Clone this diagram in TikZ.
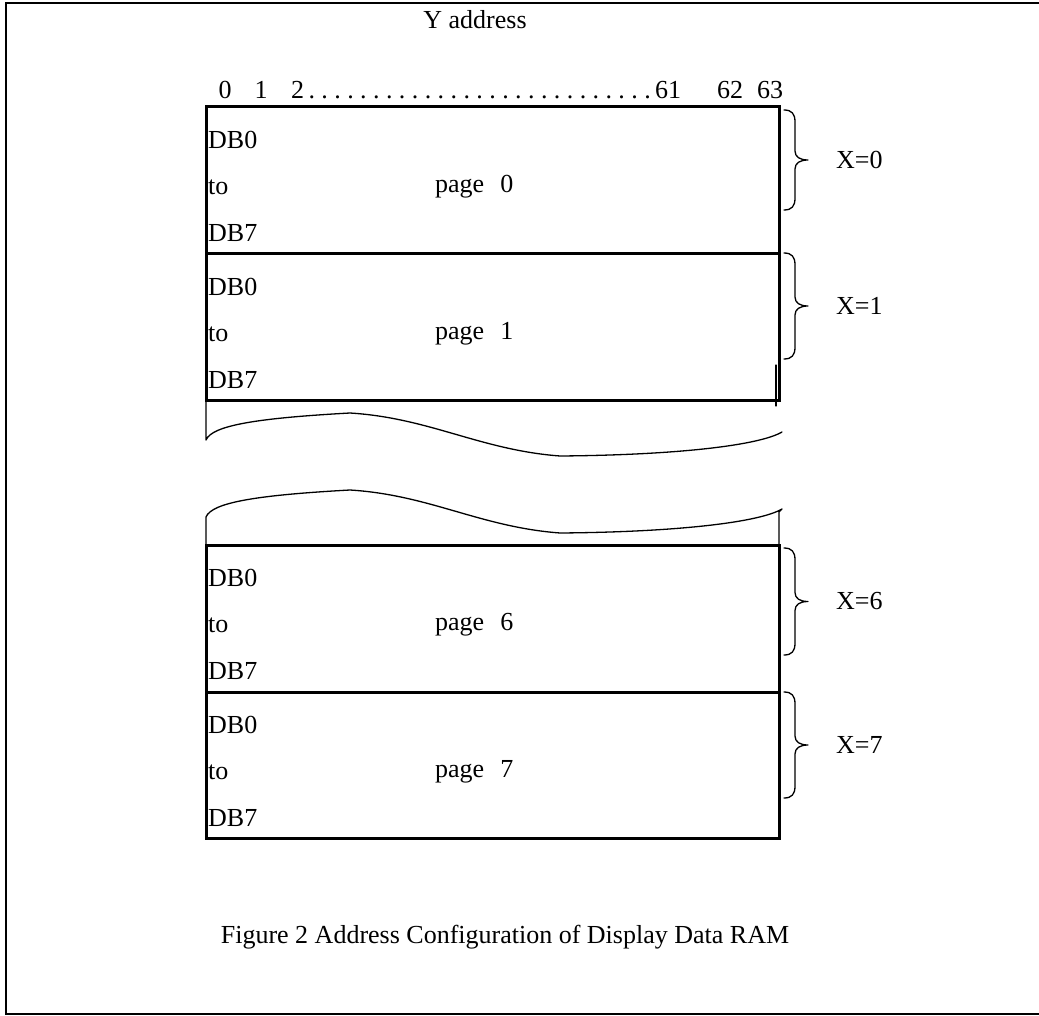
\documentclass[tikz,border=0pt]{standalone}
\usepackage{fontspec}
\setmainfont{Liberation Serif}
\begin{document}
\begin{tikzpicture}[x=1pt,y=-1pt,
  txt/.style={inner sep=0pt, font=\fontsize{26}{30}\selectfont},
  boxline/.style={line width=3pt},
  thin/.style={line width=1.3pt, line cap=round, line join=round},
  frameline/.style={line width=2pt}]
\useasboundingbox (0,0) rectangle (1039,1016);
% outer frame (top, left, bottom)
\draw[frameline] (1039,3) -- (6,3) -- (6,1014) -- (1039,1014);

% header
\node[txt] (yaddr) at (475,20) {Y address};
\node[txt] (n0) at (225,90) {0};
\node[txt] (n1) at (261,90) {1};
\node[txt,anchor=west] (n2) at (291,90)
  {\hbox to 390pt{2\kern1pt\xleaders\hbox to 12.6pt{\hss.\hss}\hfill\kern1pt 61}};
\node[txt] (n62) at (730,90) {62};
\node[txt] (n63) at (770,90) {63};

% boxes
\draw[boxline] (206,107) rectangle (779,254);
\draw[boxline] (206,254) rectangle (779,400);
\draw[boxline] (206,545) rectangle (779,692);
\draw[boxline] (206,692) rectangle (779,838);
\draw[thin] (776,365) -- (776,406);

% box texts
\foreach \t/\p/\nm in {107/0/a,254/1/b,545/6/c,692/7/d}{
  \node[txt,anchor=west] (db0\nm) at (208,\t+33) {DB0};
  \node[txt,anchor=west] (to\nm) at (208,\t+80) {to};
  \node[txt,anchor=west] (db7\nm) at (208,\t+126) {DB7};
  \node[txt,anchor=west] (pg\nm) at (435,\t+80) {page\hspace{16pt}\p};
}

% braces and X labels
\foreach \top/\bot/\lab/\nm in {110/210/0/a,253/359/1/b,548/655/6/c,692/798/7/d}{
  \pgfmathsetmacro\mid{(\top+\bot)/2}
  \draw[thin] (784,\top) .. controls (792,\top) and (795,\top+4) .. (795,\top+12)
     -- (795,\mid-9) .. controls (795,\mid-3) and (800,\mid) .. (808,\mid)
     .. controls (800,\mid) and (795,\mid+3) .. (795,\mid+9)
     -- (795,\bot-12) .. controls (795,\bot-4) and (792,\bot) .. (784,\bot);
  \node[txt,anchor=west] (x\nm) at (836,\mid) {X=\lab};
}

% break curves
\draw[thin] (206,402) -- (206,440)
  .. controls (212,425) and (260,418) .. (350,413)
  .. controls (430,418) and (480,450) .. (560,456)
  .. controls (680,455) and (760,445) .. (782,432);
\draw[thin] (206,545) -- (206,517)
  .. controls (212,502) and (260,495) .. (350,490)
  .. controls (430,495) and (480,527) .. (560,533)
  .. controls (680,532) and (760,522) .. (782,509) -- (779,512) -- (779,545);

% caption
\node[txt] (cap) at (505,937) {Figure 2 Address Configuration of Display Data RAM};
\end{tikzpicture}
\end{document}
